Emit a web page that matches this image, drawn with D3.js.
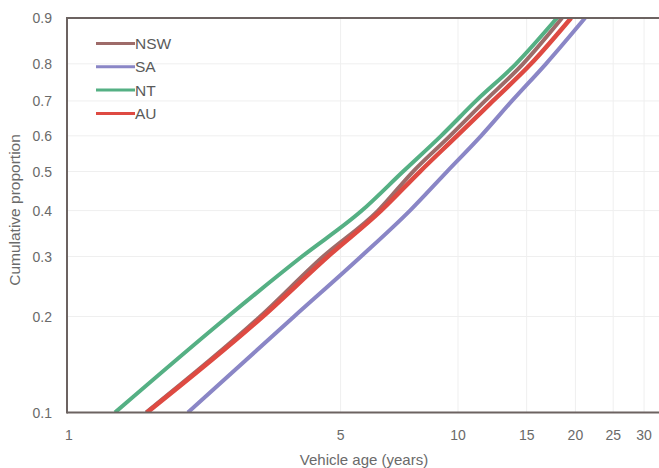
<!DOCTYPE html>
<html><head><meta charset="utf-8">
<script src="https://cdn.jsdelivr.net/npm/d3@7"></script>
<style>
body{margin:0;background:#fff;overflow:hidden;}
svg{display:block;font-family:"Liberation Sans",Arial,sans-serif;}
</style>
</head><body><svg id="chart" width="659" height="468"></svg>
<script>
// Cumulative proportion levels (y) and age (years) at which each state reaches them
const levels = [0.1, 0.2, 0.3, 0.4, 0.5, 0.6, 0.7, 0.8, 0.9];
const ageNSW = [1.585, 3.11, 4.51, 6.24, 7.67, 9.54, 11.73, 14.68, 18.48];
const ageSA  = [2.03, 3.80, 5.64, 7.53, 9.37, 11.46, 13.75, 16.81, 21.17];
const ageNT  = [1.32, 2.57, 3.98, 5.67, 7.23, 9.05, 11.12, 14.08, 17.94];
const ageAU  = [1.595, 3.16, 4.64, 6.35, 7.99, 9.94, 12.29, 15.39, 19.5];
const seriesNames = ["NSW", "SA", "NT", "AU"];
const seriesColors = ["#9e6b69", "#8a86c6", "#55b084", "#de4a42"];
const xTickValues = [1, 5, 10, 15, 20, 25, 30];
const yTickValues = [0.1, 0.2, 0.3, 0.4, 0.5, 0.6, 0.7, 0.8, 0.9];

const seriesAges = [ageNSW, ageSA, ageNT, ageAU];

(function () {
const svg = d3.select("#chart");
const mLeft = 67, mTop = 18, mBottom = 412.5;

// Weibull probability transform
const weib = p => Math.log(-Math.log(1 - p));

const x = d3.scaleLog().domain([1, 40]).range([68, 68 + 390 * Math.log10(40)]);
const y = d3.scaleLinear().domain([weib(0.1), weib(0.9)]).range([mBottom, mTop]);

// gridlines
const grid = svg.append("g").attr("stroke", "#efefef").attr("stroke-width", 1);
grid.selectAll("line.h").data(yTickValues.slice(1, -1)).join("line")
  .attr("x1", mLeft).attr("x2", 700)
  .attr("y1", d => y(weib(d))).attr("y2", d => y(weib(d)));
grid.selectAll("line.v").data(xTickValues.slice(1)).join("line")
  .attr("x1", d => x(d)).attr("x2", d => x(d))
  .attr("y1", mTop).attr("y2", mBottom);

// clip
svg.append("clipPath").attr("id", "clip").append("rect")
  .attr("x", mLeft).attr("y", mTop).attr("width", 700).attr("height", mBottom - mTop);

const line = d3.line()
  .x(d => x(d[0]))
  .y(d => y(weib(d[1])))
  .curve(d3.curveMonotoneX);

const plot = svg.append("g").attr("clip-path", "url(#clip)");
seriesNames.forEach((name, i) => {
  const pts = seriesAges[i].map((a, j) => [a, levels[j]]);
  plot.append("path").datum(pts)
    .attr("fill", "none")
    .attr("stroke", seriesColors[i])
    .attr("stroke-width", name === "AU" ? 4.5 : 4)
    .attr("stroke-linejoin", "round")
    .attr("d", line);
});

// frame
const frame = svg.append("g").attr("stroke", "#6c6361").attr("stroke-width", 2).attr("fill", "none");
frame.append("line").attr("x1", mLeft).attr("x2", 700).attr("y1", mTop).attr("y2", mTop);
frame.append("line").attr("x1", mLeft).attr("x2", 700).attr("y1", mBottom).attr("y2", mBottom);
frame.append("line").attr("x1", mLeft).attr("x2", mLeft).attr("y1", mTop - 1).attr("y2", mBottom + 1);

// y tick labels
svg.append("g").selectAll("text").data(yTickValues).join("text")
  .attr("x", 52).attr("y", d => y(weib(d)) + 5)
  .attr("text-anchor", "end")
  .attr("font-size", 14).attr("fill", "#6a6a6a")
  .text(d => d3.format(".1f")(d));

// x tick labels
svg.append("g").selectAll("text").data(xTickValues).join("text")
  .attr("x", d => x(d) + (d === 1 ? 1 : 0)).attr("y", 440)
  .attr("text-anchor", "middle")
  .attr("font-size", 14).attr("fill", "#6a6a6a")
  .text(d => d);

// axis titles
svg.append("text").attr("x", 364).attr("y", 465)
  .attr("text-anchor", "middle").attr("font-size", 15).attr("fill", "#6a6a6a")
  .text("Vehicle age (years)");
svg.append("text")
  .attr("transform", "translate(20,210) rotate(-90)")
  .attr("text-anchor", "middle").attr("font-size", 15.5).attr("fill", "#6a6a6a")
  .text("Cumulative proportion");

// legend
const legend = svg.append("g");
seriesNames.forEach((name, i) => {
  const ly = 43.5 + i * 23.3;
  legend.append("line").attr("x1", 96).attr("x2", 135).attr("y1", ly).attr("y2", ly)
    .attr("stroke", seriesColors[i]).attr("stroke-width", 3);
  legend.append("text").attr("x", 135).attr("y", ly + 5.5)
    .attr("font-size", 15.5).attr("fill", "#5a5a5a").text(name);
});
})();
</script>
</body></html>
